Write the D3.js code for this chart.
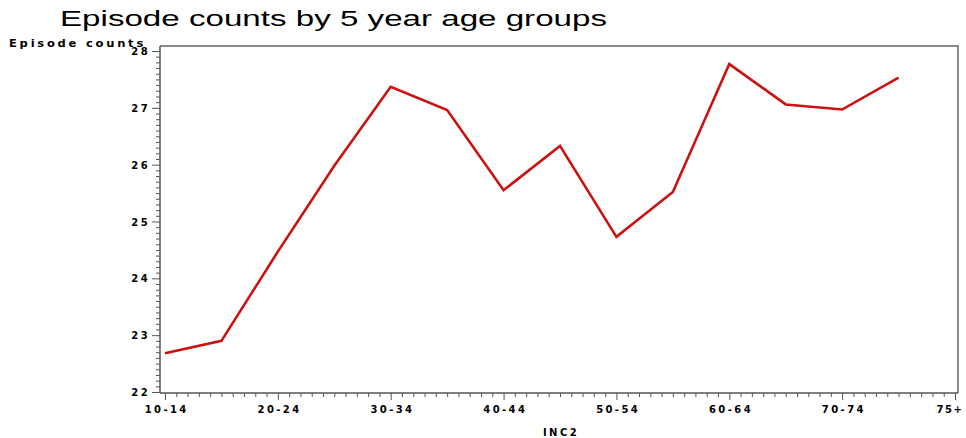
<!DOCTYPE html>
<html>
<head>
<meta charset="utf-8">
<script src="https://cdn.jsdelivr.net/npm/d3@7"></script>
<style>
  html, body { margin: 0; padding: 0; background: #fff; }
  svg { display: block; }
  .sas { font-family: "DejaVu Sans", sans-serif; font-weight: bold; font-size: 10px; letter-spacing: 2.4px; fill: #000; }
</style>
</head>
<body>
<svg id="chart" width="966" height="438"></svg>
<script>
// ---- data ----
const categories = ["10-14","15-19","20-24","25-29","30-34","35-39","40-44","45-49","50-54","55-59","60-64","65-69","70-74","75+"];
const ageStart = [10,15,20,25,30,35,40,45,50,55,60,65,70,75];
const episodeCounts = [22.68,22.90,24.47,25.98,27.37,26.96,25.55,26.33,24.73,25.52,27.77,27.06,26.97,27.53];
const xTickValues = [10,20,30,40,50,60,70,80];
const xTickLabels = ["10-14","20-24","30-34","40-44","50-54","60-64","70-74","75+"];
const yTickValues = [22,23,24,25,26,27,28];

const title = "Episode counts by 5 year age groups";
const yTitle = "Episode counts";
const xTitle = "INC2";

// ---- layout ----
const svg = d3.select("#chart");
const frame = { left: 160, right: 958, top: 46, bottom: 393 };
const x = d3.scaleLinear().domain([10, 80]).range([165, 955]);
const y = d3.scaleLinear().domain([22, 28]).range([392, 51]);
const axisColor = "#555";

// title (wide face in the reference: stretched horizontally)
svg.append("text")
  .attr("x", 60).attr("y", 26)
  .attr("font-family", "Liberation Sans, Arial, sans-serif")
  .attr("font-size", 21.5)
  .attr("fill", "#000")
  .attr("textLength", 547)
  .attr("lengthAdjust", "spacingAndGlyphs")
  .text(title);

// frame (top & right)
svg.append("path")
  .attr("d", `M${frame.left},${frame.top}H${frame.right}V${frame.bottom}`)
  .attr("fill", "none").attr("stroke", "#666").attr("stroke-width", 1.5);

// y axis minor ticks
const yMinor = d3.range(22, 28.0001, 0.1).map(v => +v.toFixed(1)).filter(v => !yTickValues.includes(v));
const yMinorAxis = d3.axisLeft(y).tickValues(yMinor).tickSize(4).tickFormat("");
const gyMinor = svg.append("g").attr("transform", `translate(${frame.left},0)`).call(yMinorAxis);
gyMinor.select(".domain").remove();
gyMinor.selectAll("line").attr("stroke", axisColor);

// y axis major
const yAxis = d3.axisLeft(y).tickValues(yTickValues).tickSize(8).tickPadding(2).tickFormat(d3.format("d"));
const gy = svg.append("g").attr("transform", `translate(${frame.left},0)`).call(yAxis);
gy.select(".domain").attr("d", `M0,${frame.top}V${frame.bottom}`).attr("stroke", axisColor).attr("stroke-width", 1.5);
gy.selectAll("line").attr("stroke", axisColor);
gy.selectAll("text").attr("class", "sas").attr("font-size", null).attr("font-family", null).attr("dy", "0.35em");

// x axis minor ticks
const xMinor = d3.range(10, 81, 1).filter(v => !xTickValues.includes(v));
const xMinorAxis = d3.axisBottom(x).tickValues(xMinor).tickSize(4).tickFormat("");
const gxMinor = svg.append("g").attr("transform", `translate(0,${frame.bottom})`).call(xMinorAxis);
gxMinor.select(".domain").remove();
gxMinor.selectAll("line").attr("stroke", axisColor);

// x axis major
const xAxis = d3.axisBottom(x).tickValues(xTickValues).tickSize(7).tickPadding(6)
  .tickFormat((d, i) => xTickLabels[i]);
const gx = svg.append("g").attr("transform", `translate(0,${frame.bottom})`).call(xAxis);
gx.select(".domain").attr("d", `M${frame.left},0H${frame.right}`).attr("stroke", axisColor).attr("stroke-width", 1.5);
gx.selectAll("line").attr("stroke", axisColor);
gx.selectAll("text").attr("class", "sas").attr("font-size", null).attr("font-family", null).attr("dx", "1.2px");
gx.selectAll("text").filter((d, i) => i === xTickLabels.length - 1)
  .attr("text-anchor", "end").attr("dx", "8px").style("letter-spacing", "1.6px");

// axis titles
svg.append("text").attr("class", "sas").attr("x", 9).attr("y", 47)
  .attr("textLength", 137).attr("lengthAdjust", "spacingAndGlyphs").text(yTitle);
svg.append("text").attr("class", "sas").attr("x", 561).attr("y", 436).attr("text-anchor", "middle").text(xTitle);

// line
const data = categories.map((c, i) => ({ c, x: ageStart[i], v: episodeCounts[i] }));
svg.append("path")
  .datum(data)
  .attr("fill", "none")
  .attr("stroke", "#cc1111")
  .attr("stroke-width", 2.6)
  .attr("stroke-linejoin", "miter")
  .attr("d", d3.line().x(d => x(d.x)).y(d => y(d.v)));
</script>
</body>
</html>
